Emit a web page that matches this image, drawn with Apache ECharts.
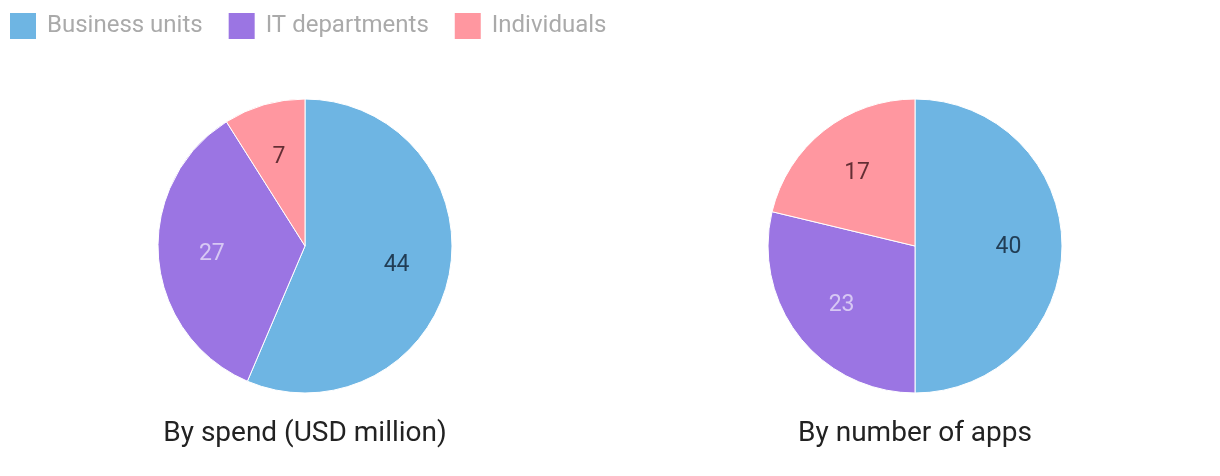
<!DOCTYPE html>
<html><head><meta charset="utf-8">
<script src="https://cdn.jsdelivr.net/npm/echarts@6/dist/echarts.min.js"></script>
<style>html,body{margin:0;padding:0;background:#fff}#c{width:1220px;height:476px}</style>
</head><body><div id="c"></div>
<script>
const categories = ['Business units', 'IT departments', 'Individuals'];
const spendValues = [44, 27, 7];
const appsValues = [40, 23, 17];
const chartTitles = ['By spend (USD million)', 'By number of apps'];
const colors = ['#6EB5E3', '#9B75E3', '#FF97A0'];
const labelColors = ['rgba(20,40,60,0.85)', 'rgba(255,255,255,0.6)', 'rgba(60,20,25,0.8)'];

const chart = echarts.init(document.getElementById('c'), null, {renderer: 'canvas'});
const R = 147;
function mk(values) {
  return categories.map((n, i) => ({name: n, value: values[i]}));
}
function pieBase(values, idx) {
  return {
    type: 'pie', center: [305 + idx * 610, 246], radius: [0, R],
    startAngle: 90, clockwise: true, animation: false,
    label: {show: false}, labelLine: {show: false},
    itemStyle: {borderColor: '#fff', borderWidth: 1},
    data: mk(values).map((d, i) => ({...d, itemStyle: {color: colors[i]}})),
    silent: true
  };
}
function pieLabels(values, idx) {
  return {
    type: 'pie', center: [305 + idx * 610, 247], radius: [34, R],
    startAngle: 90, clockwise: true, animation: false, silent: true,
    legendHoverLink: false,
    itemStyle: {color: 'rgba(0,0,0,0)', borderWidth: 0},
    label: {show: true, position: 'inside', fontSize: 23, fontFamily: 'Roboto', formatter: '{c}'},
    labelLine: {show: false},
    data: mk(values).map((d, i) => ({...d, label: {color: labelColors[i]}, itemStyle: {color: 'rgba(0,0,0,0)'}}))
  };
}
chart.setOption({
  color: colors,
  textStyle: {fontFamily: 'Roboto'},
  legend: {
    left: 3, top: 6, itemWidth: 28, itemHeight: 28, itemGap: 24,
    icon: 'rect',
    data: categories,
    textStyle: {color: '#aaa', fontSize: 24, fontFamily: 'Roboto', padding: [0, 0, 0, 5]}
  },
  title: chartTitles.map((t, i) => ({
    text: t, left: 300 + i * 610, top: 415, textAlign: 'center',
    textStyle: {fontSize: 28, fontWeight: 'normal', color: '#222', fontFamily: 'Roboto'}
  })),
  series: [pieBase(spendValues, 0), pieBase(appsValues, 1), pieLabels(spendValues, 0), pieLabels(appsValues, 1)]
});
</script></body></html>
